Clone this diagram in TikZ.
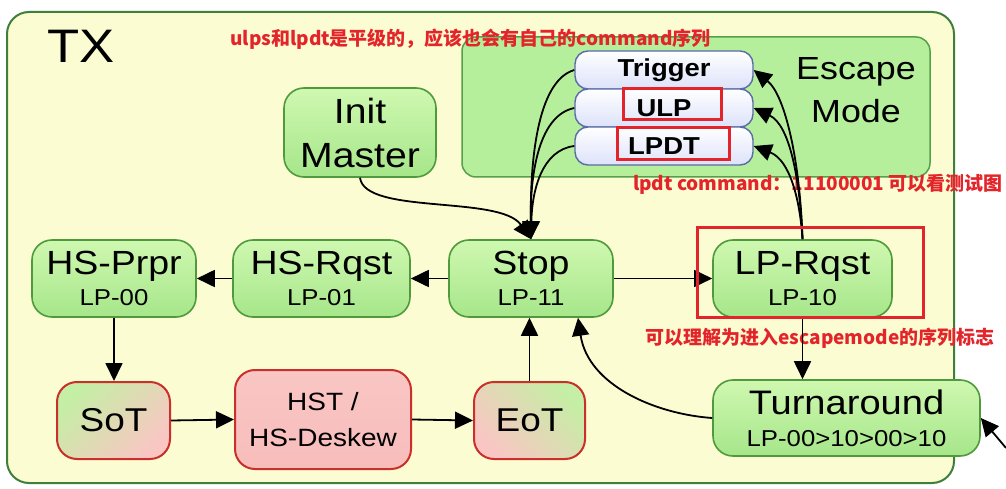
\documentclass[tikz,border=0pt]{standalone}
\usepackage{fontspec}
\setmainfont{Liberation Sans}[FakeStretch=1.12]
\newfontfamily\cjkfont{Noto Sans CJK SC}
\usetikzlibrary{arrows.meta}
\definecolor{txfill}{HTML}{FCFCD2}
\definecolor{txborder}{HTML}{3E7F3A}
\definecolor{escfill}{HTML}{B6EF9B}
\definecolor{escborder}{HTML}{55A04A}
\definecolor{gtop}{HTML}{CFF8B0}
\definecolor{gbot}{HTML}{A6E68A}
\definecolor{gborder}{HTML}{4F9A3C}
\definecolor{rborder}{HTML}{C9302C}
\definecolor{pinkA}{HTML}{F9C6C4}
\definecolor{pinkB}{HTML}{F7BDBB}
\definecolor{sotgreen}{HTML}{C4EFA4}
\definecolor{wtop}{HTML}{FFFFFF}
\definecolor{wbot}{HTML}{DCE2FA}
\definecolor{wborder}{HTML}{5A6BA6}
\definecolor{annot}{HTML}{E3242A}
\newcommand\subf{\fontsize{23}{31}\selectfont}
\tikzset{
  gnode/.style={draw=gborder, line width=1.6pt, rounded corners=20pt,
    top color=gtop, bottom color=gbot, align=center, inner sep=0pt,
    font=\fontsize{33.5}{31}\selectfont},
  rnode/.style={draw=rborder, line width=2pt, rounded corners=20pt,
    align=center, inner sep=0pt},
  wnode/.style={draw=wborder, line width=1.4pt, rounded corners=13pt,
    top color=wtop, bottom color=wbot, minimum width=178pt, minimum height=38pt,
    inner sep=0pt, font=\bfseries\fontsize{24.5}{24}\selectfont},
  redbox/.style={draw=annot, line width=3pt},
  annotation/.style={text=annot, inner sep=0pt,
    font=\cjkfont\bfseries\fontsize{19}{19}\selectfont},
  arr/.style={line width=1.8pt, -{Triangle[length=18pt,width=17pt]}},
}
\begin{document}
\begin{tikzpicture}[x=1pt,y=-1pt]
\useasboundingbox (0,0) rectangle (1006,489);
\fill[white] (0,0) rectangle (1006,489);
% containers
\node[draw=txborder, line width=2pt, fill=txfill, rounded corners=22pt,
  minimum width=947pt, minimum height=471pt, inner sep=0pt] (tx) at (480.5,247.5) {};
\node[anchor=base west, inner sep=0pt, font=\fontsize{47}{47}\selectfont] (txlabel) at (47,63) {TX};
\node[draw=escborder, line width=1.5pt, fill=escfill, rounded corners=14pt,
  minimum width=468pt, minimum height=140pt, inner sep=0pt] (esc) at (696,107) {};
\node[align=center, inner sep=0pt, font=\fontsize{32}{43}\selectfont] (esclabel) at (856,90.5) {Escape\\Mode};
% annotations
\node[annotation] (note1) at (470.5,39) {ulps和lpdt是平级的，应该也会有自己的command序列};
\node[annotation] (note2) at (818,184) {lpdt command：11100001 可以看测试图};
\node[annotation] (note3) at (820,338) {可以理解为进入escapemode的序列标志};
% escape commands
\node[wnode] (trigger) at (664,70) {Trigger};
\node[wnode] (ulp) at (664,108) {ULP};
\node[wnode] (lpdt) at (664,146) {LPDT};
% states
\node[gnode, minimum width=152pt, minimum height=89pt, font=\fontsize{35}{44}\selectfont] (init) at (360,132.5) {Init\\Master};
\node[gnode, minimum width=164pt, minimum height=77pt] (hsprpr) at (114,278.5) {HS-Prpr\\{\subf LP-00}};
\node[gnode, minimum width=177pt, minimum height=77pt] (hsrqst) at (321.5,278.5) {HS-Rqst\\{\subf LP-01}};
\node[gnode, minimum width=164pt, minimum height=77pt] (stop) at (531,278.5) {Stop\\{\subf LP-11}};
\node[gnode, minimum width=179pt, minimum height=77pt] (lprqst) at (802.5,278.5) {LP-Rqst\\{\subf LP-10}};
\node[gnode, minimum width=267pt, minimum height=76pt, font=\fontsize{34}{32}\selectfont] (turn) at (846.5,418) {Turnaround\\{\subf LP-00>10>00>10}};
\node[rnode, minimum width=113pt, minimum height=77pt, top color=sotgreen, bottom color=pinkA, shading angle=45,
  font=\fontsize{33}{33}\selectfont] (sot) at (113.5,420.5) {SoT};
\node[rnode, minimum width=176pt, minimum height=99pt, top color=pinkA, bottom color=pinkB,
  font=\fontsize{25}{36}\selectfont] (hst) at (323,419.5) {HST /\\HS-Deskew};
\node[rnode, minimum width=111pt, minimum height=77pt, top color=sotgreen, bottom color=pinkA, shading angle=-45,
  font=\fontsize{33}{33}\selectfont] (eot) at (529.5,420.5) {EoT};
% connectors
\draw[arr] (stop.west) -- (hsrqst.east);
\draw[arr] (hsrqst.west) -- (hsprpr.east);
\draw[arr] (hsprpr.south) -- (hsprpr.south |- sot.north);
\draw[arr] (sot.east) -- (hst.west);
\draw[arr] (hst.east) -- (eot.west);
\draw[arr] (eot.north) -- (eot.north |- stop.south);
\draw[arr] (stop.east) -- (lprqst.west);
\draw[arr] (lprqst.south) -- (lprqst.south |- turn.north);
\draw[arr] (turn.west) .. controls (655,414) and (588,385) .. ([xshift=47pt]stop.south);
\draw[arr] (init.south) .. controls (365,215) and (500,195) .. (stop.north);
\draw[arr] (trigger.west) .. controls (540,80) and (530,150) .. (stop.north);
\draw[arr] (ulp.west) .. controls (540,115) and (530,170) .. (stop.north);
\draw[arr] (lpdt.west) .. controls (542,150) and (532,190) .. (stop.north);
\draw[arr] (lprqst.north) .. controls (800,160) and (785,95) .. (trigger.east);
\draw[arr] (lprqst.north) .. controls (800,180) and (790,125) .. (ulp.east);
\draw[arr] (lprqst.north) .. controls (800,200) and (790,160) .. (lpdt.east);
\coordinate (ext) at (1006,448);
\draw[arr] (ext) -- (turn.east);
% red highlight boxes
\draw[redbox] (623,89) rectangle (721,120);
\draw[redbox] (617,128) rectangle (729,160);
\draw[redbox] (697,227) rectangle (923,317);
\end{tikzpicture}
\end{document}
